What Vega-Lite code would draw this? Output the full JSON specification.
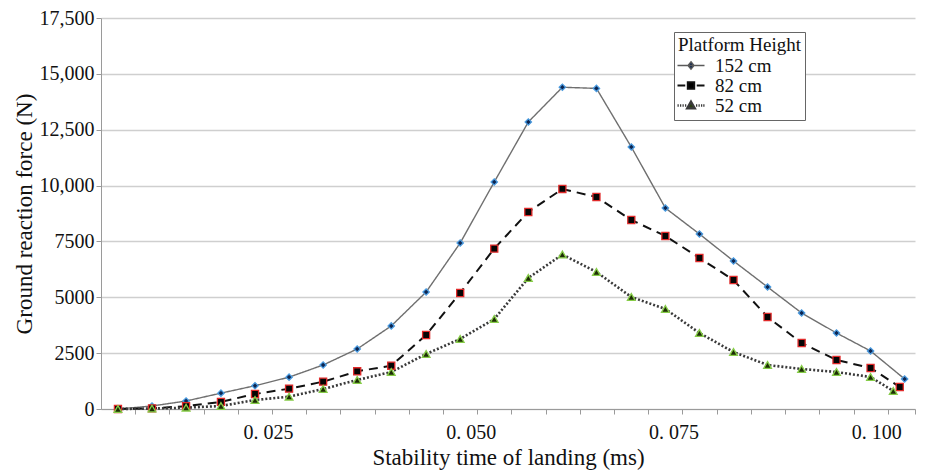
{
  "$schema": "https://vega.github.io/schema/vega-lite/v6.json",
  "width": 814,
  "height": 391,
  "autosize": "none",
  "padding": {"left": 101, "top": 18, "right": 10, "bottom": 62},
  "background": "white",
  "config": {
    "font": "Liberation Serif, DejaVu Serif, serif",
    "view": {"stroke": null},
    "axis": {"labelFont": "Liberation Serif, DejaVu Serif, serif", "titleFont": "Liberation Serif, DejaVu Serif, serif", "labelColor": "#111", "titleColor": "#111", "titleFontWeight": "normal", "domainColor": "#9a9a9a", "tickColor": "#9a9a9a"},
    "legend": {"labelFont": "Liberation Serif, DejaVu Serif, serif", "titleFont": "Liberation Serif, DejaVu Serif, serif"}
  },
  "data": {"values": [
    {"t": 0.0065, "h": "152 cm", "f": 0},
    {"t": 0.0107, "h": "152 cm", "f": 134},
    {"t": 0.0149, "h": "152 cm", "f": 358},
    {"t": 0.0192, "h": "152 cm", "f": 710},
    {"t": 0.0234, "h": "152 cm", "f": 1042},
    {"t": 0.0276, "h": "152 cm", "f": 1425},
    {"t": 0.0318, "h": "152 cm", "f": 1969},
    {"t": 0.0360, "h": "152 cm", "f": 2686},
    {"t": 0.0402, "h": "152 cm", "f": 3718},
    {"t": 0.0445, "h": "152 cm", "f": 5237},
    {"t": 0.0487, "h": "152 cm", "f": 7430},
    {"t": 0.0529, "h": "152 cm", "f": 10160},
    {"t": 0.0571, "h": "152 cm", "f": 12846},
    {"t": 0.0613, "h": "152 cm", "f": 14400},
    {"t": 0.0655, "h": "152 cm", "f": 14350},
    {"t": 0.0698, "h": "152 cm", "f": 11726},
    {"t": 0.0740, "h": "152 cm", "f": 8996},
    {"t": 0.0782, "h": "152 cm", "f": 7832},
    {"t": 0.0824, "h": "152 cm", "f": 6624},
    {"t": 0.0866, "h": "152 cm", "f": 5460},
    {"t": 0.0908, "h": "152 cm", "f": 4297},
    {"t": 0.0951, "h": "152 cm", "f": 3402},
    {"t": 0.0993, "h": "152 cm", "f": 2596},
    {"t": 0.1035, "h": "152 cm", "f": 1343},
    {"t": 0.0065, "h": "82 cm", "f": 0},
    {"t": 0.0107, "h": "82 cm", "f": 30},
    {"t": 0.0149, "h": "82 cm", "f": 125},
    {"t": 0.0192, "h": "82 cm", "f": 320},
    {"t": 0.0234, "h": "82 cm", "f": 671},
    {"t": 0.0276, "h": "82 cm", "f": 910},
    {"t": 0.0318, "h": "82 cm", "f": 1223},
    {"t": 0.0360, "h": "82 cm", "f": 1687},
    {"t": 0.0402, "h": "82 cm", "f": 1938},
    {"t": 0.0445, "h": "82 cm", "f": 3312},
    {"t": 0.0487, "h": "82 cm", "f": 5192},
    {"t": 0.0529, "h": "82 cm", "f": 7180},
    {"t": 0.0571, "h": "82 cm", "f": 8817},
    {"t": 0.0613, "h": "82 cm", "f": 9847},
    {"t": 0.0655, "h": "82 cm", "f": 9488},
    {"t": 0.0698, "h": "82 cm", "f": 8459},
    {"t": 0.0740, "h": "82 cm", "f": 7743},
    {"t": 0.0782, "h": "82 cm", "f": 6758},
    {"t": 0.0824, "h": "82 cm", "f": 5774},
    {"t": 0.0866, "h": "82 cm", "f": 4118},
    {"t": 0.0908, "h": "82 cm", "f": 2954},
    {"t": 0.0951, "h": "82 cm", "f": 2193},
    {"t": 0.0993, "h": "82 cm", "f": 1835},
    {"t": 0.1029, "h": "82 cm", "f": 985},
    {"t": 0.0065, "h": "52 cm", "f": 0},
    {"t": 0.0107, "h": "52 cm", "f": 20},
    {"t": 0.0149, "h": "52 cm", "f": 60},
    {"t": 0.0192, "h": "52 cm", "f": 134},
    {"t": 0.0234, "h": "52 cm", "f": 403},
    {"t": 0.0276, "h": "52 cm", "f": 552},
    {"t": 0.0318, "h": "52 cm", "f": 895},
    {"t": 0.0360, "h": "52 cm", "f": 1298},
    {"t": 0.0402, "h": "52 cm", "f": 1656},
    {"t": 0.0445, "h": "52 cm", "f": 2462},
    {"t": 0.0487, "h": "52 cm", "f": 3133},
    {"t": 0.0529, "h": "52 cm", "f": 4028},
    {"t": 0.0571, "h": "52 cm", "f": 5863},
    {"t": 0.0613, "h": "52 cm", "f": 6915},
    {"t": 0.0655, "h": "52 cm", "f": 6132},
    {"t": 0.0698, "h": "52 cm", "f": 5013},
    {"t": 0.0740, "h": "52 cm", "f": 4476},
    {"t": 0.0782, "h": "52 cm", "f": 3402},
    {"t": 0.0824, "h": "52 cm", "f": 2551},
    {"t": 0.0866, "h": "52 cm", "f": 1969},
    {"t": 0.0908, "h": "52 cm", "f": 1790},
    {"t": 0.0951, "h": "52 cm", "f": 1656},
    {"t": 0.0993, "h": "52 cm", "f": 1432},
    {"t": 0.1021, "h": "52 cm", "f": 806}
  ]},
  "encoding": {
    "x": {
      "field": "t", "type": "quantitative",
      "scale": {"domain": [0.00441, 0.10478], "nice": false, "zero": false},
      "axis": {
        "title": "Stability time of landing (ms)",
        "titleFont": "Liberation Serif, DejaVu Serif, serif", "labelFont": "Liberation Serif, DejaVu Serif, serif",
        "titleFontSize": 23, "titlePadding": 4,
        "labelFontSize": 20, "labelPadding": 8,
        "values": [0.00861, 0.01283, 0.01705, 0.02127, 0.02548, 0.0297, 0.03392, 0.03814, 0.04236, 0.04658, 0.0508, 0.05501, 0.05923, 0.06345, 0.06767, 0.07189, 0.07611, 0.08032, 0.08454, 0.08876, 0.09298, 0.0972, 0.10142, 0.10475, 0.025, 0.05, 0.075, 0.1],
        "labelExpr": "indexof([0.025, 0.05, 0.075, 0.1], datum.value) >= 0 ? replace(format(datum.value, '.3f'), '.', '. ') : ''",
        "labelOverlap": false, "labelFlush": false,
        "tickSize": 5,
        "tickOpacity": {"condition": {"test": "indexof([0.025, 0.05, 0.075, 0.1], datum.value) >= 0", "value": 0}, "value": 1},
        "grid": false
      }
    },
    "y": {
      "field": "f", "type": "quantitative",
      "scale": {"domain": [0, 17500], "nice": false},
      "axis": {
        "title": "Ground reaction force (N)",
        "titleFont": "Liberation Serif, DejaVu Serif, serif", "labelFont": "Liberation Serif, DejaVu Serif, serif",
        "titleFontSize": 23, "titlePadding": 3,
        "labelFontSize": 20, "labelPadding": 2,
        "values": [0, 2500, 5000, 7500, 10000, 12500, 15000, 17500],
        "labelExpr": "datum.value >= 10000 ? format(datum.value, ',') : format(datum.value, 'd')",
        "tickSize": 5,
        "grid": true, "gridColor": "#cfcfcf", "gridWidth": 1.5
      }
    }
  },
  "layer": [
    {
      "mark": {"type": "line"},
      "encoding": {
        "detail": {"field": "h"},
        "color": {"field": "h", "scale": {"domain": ["152 cm", "82 cm", "52 cm"], "range": ["#6f6f6f", "#111111", "#3a3a3a"]}, "legend": null},
        "strokeDash": {"field": "h", "scale": {"domain": ["152 cm", "82 cm", "52 cm"], "range": [[1, 0], [9, 6], [2, 2]]}, "legend": null},
        "strokeWidth": {"field": "h", "scale": {"domain": ["152 cm", "82 cm", "52 cm"], "range": [1.4, 2.6, 1.8]}, "legend": null}
      }
    },
    {
      "mark": {"type": "point", "filled": false, "opacity": 1},
      "encoding": {
        "shape": {"field": "h", "scale": {"domain": ["152 cm", "82 cm", "52 cm"], "range": ["diamond", "square", "triangle-up"]}, "legend": null},
        "fill": {"field": "h", "scale": {"domain": ["152 cm", "82 cm", "52 cm"], "range": ["#0d2550", "#050505", "#1d2d05"]}, "legend": null},
        "stroke": {"field": "h", "scale": {"domain": ["152 cm", "82 cm", "52 cm"], "range": ["#4a9be0", "#e02a2a", "#86cc48"]}, "legend": null},
        "size": {"field": "h", "scale": {"domain": ["152 cm", "82 cm", "52 cm"], "range": [40, 60, 40]}, "legend": null},
        "strokeWidth": {"value": 1.3}
      }
    },
    {
      "mark": {"type": "point", "opacity": 0, "filled": true},
      "encoding": {
        "shape": {
          "field": "h",
          "scale": {"domain": ["152 cm", "82 cm", "52 cm"], "range": [
            "M-2,0H3.4M0.7,-0.75L1.3,0L0.7,0.75L0.1,0Z",
            "M-2,0H-0.45M1.85,0H3.4M0.05,-0.65H1.35V0.65H0.05Z",
            "M-2,0H-1.75M-1.5,0H-1.25M-1,0H-0.75M-0.5,0H-0.25M1.7,0H1.95M2.2,0H2.45M2.7,0H2.95M3.15,0H3.4M0.7,-0.75L1.45,0.55H-0.05Z"
          ]},
          "legend": {
            "title": "Platform Height\u00a0\u00a0\u00a0\u00a0",
            "orient": "none", "legendX": 573, "legendY": 14,
            "titleFontSize": 19, "titleFontWeight": "normal", "titleColor": "#111", "titlePadding": 1,
            "labelFontSize": 19, "labelColor": "#111", "labelOffset": 18,
            "titleFont": "Liberation Serif, DejaVu Serif, serif", "labelFont": "Liberation Serif, DejaVu Serif, serif",
            "symbolSize": 100, "symbolOpacity": 1,
            "rowPadding": 0,
            "padding": 4,
            "strokeColor": "#666", "fillColor": "white",
            "encode": {"legend": {"update": {"strokeDash": {"value": [2, 2]}}}}
          }
        },
        "fill": {"field": "h", "scale": {"domain": ["152 cm", "82 cm", "52 cm"], "range": ["#0d2550", "#000000", "#2a4010"]}, "legend": {"title": "Platform Height\u00a0\u00a0\u00a0\u00a0"}},
        "stroke": {"field": "h", "scale": {"domain": ["152 cm", "82 cm", "52 cm"], "range": ["#5a5a5a", "#111111", "#3a3a3a"]}, "legend": {"title": "Platform Height\u00a0\u00a0\u00a0\u00a0"}},
        "strokeWidth": {"field": "h", "scale": {"domain": ["152 cm", "82 cm", "52 cm"], "range": [1.4, 2.4, 1.5]}, "legend": {"title": "Platform Height\u00a0\u00a0\u00a0\u00a0"}}
      }
    }
  ],
  "resolve": {"scale": {"shape": "independent", "fill": "independent", "stroke": "independent", "strokeWidth": "independent"}}
}
